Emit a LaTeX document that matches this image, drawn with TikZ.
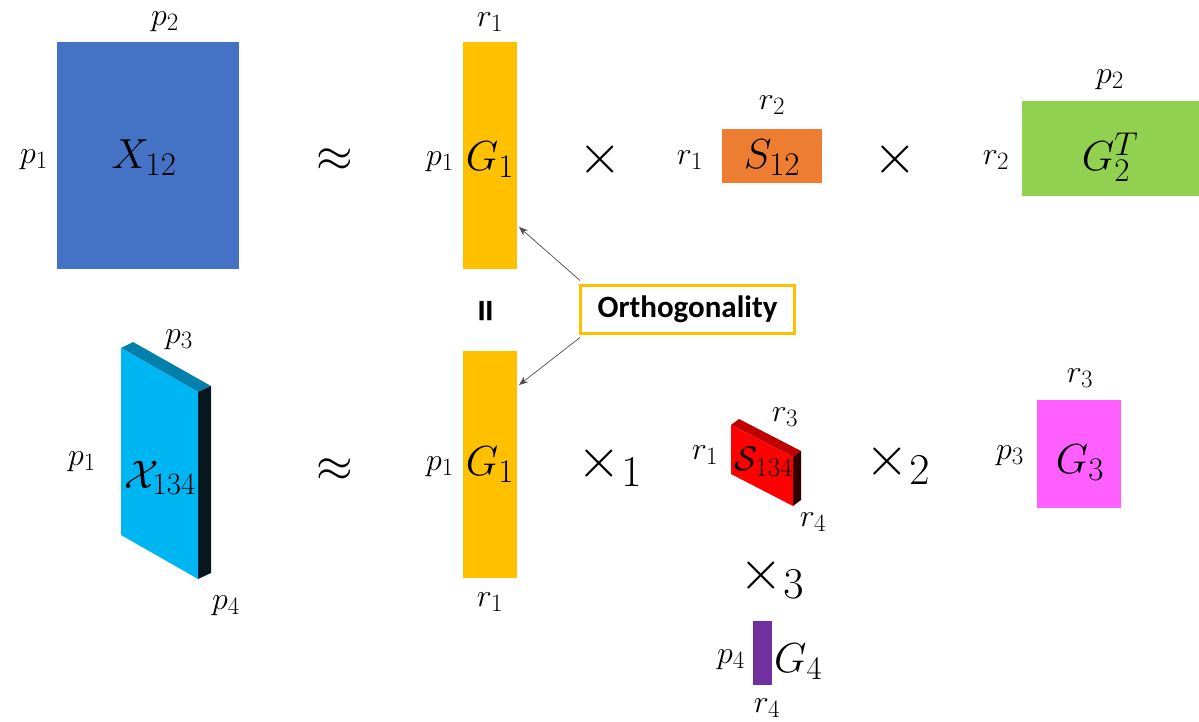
\RequirePackage{fix-cm}
\documentclass[tikz,border=0pt]{standalone}
\usepackage{fontspec}
\newfontfamily\calib{Carlito}
\usetikzlibrary{arrows.meta}
\newcommand\myssz[2]{\mbox{\fontsize{#1}{#1}\selectfont$#2$}}
\newcommand\subA[1]{\myssz{25}{#1}}% subscript of small labels
\newcommand\subB[1]{\myssz{33}{#1}}% subscript of big labels
\newcommand\subO[1]{\myssz{44}{#1}}% subscript of operators
\definecolor{cblue}{HTML}{4472C4}
\definecolor{cyel}{HTML}{FFC000}
\definecolor{corange}{HTML}{ED7D31}
\definecolor{cgreen}{HTML}{92D050}
\definecolor{cmag}{HTML}{FF5FFF}
\definecolor{cpurple}{HTML}{7030A0}
\definecolor{ccyan}{HTML}{00B6F2}
\definecolor{ccyantop}{HTML}{0080AA}
\definecolor{ccyanside}{HTML}{06181E}
\definecolor{cred}{HTML}{FF0000}
\definecolor{credtop}{HTML}{C00000}
\definecolor{credside}{HTML}{300000}
\begin{document}
\begin{tikzpicture}[x=1pt,y=-1pt,
  lbl/.style={font=\fontsize{32}{36}\selectfont, inner sep=0},
  big/.style={font=\fontsize{42}{48}\selectfont, inner sep=0},
  opr/.style={font=\fontsize{56}{62}\selectfont, inner sep=0},
  apx/.style={font=\fontsize{47}{52}\selectfont, inner sep=0},
  mat/.style={draw=none, inner sep=0, outer sep=0},
  arr/.style={draw=black!70, line width=0.7pt, -{Stealth[length=9pt,width=7pt]}}]
\useasboundingbox (0,0) rectangle (1199,722);

% ---------- top row ----------
\node[mat, fill=cblue, minimum width=182pt, minimum height=227pt] (X12) at (148,155.5) {};
\node[big] at (144,158) {$X_{\subB{12}}$};
\node[lbl] at (165,22) {$p_{\subA{2}}$};
\node[lbl] at (34,160) {$p_{\subA{1}}$};

\node[apx] (ap1) at (335,160) {$\approx$};

\node[mat, fill=cyel, minimum width=54pt, minimum height=227pt] (G1a) at (490,155.5) {};
\node[big] at (490,160) {$G_{\subB{1}}$};
\node[lbl] at (490,22) {$r_{\subA{1}}$};
\node[lbl] at (440,162) {$p_{\subA{1}}$};

\node[opr] (t1) at (600,160) {$\times$};

\node[mat, fill=corange, minimum width=100pt, minimum height=54pt] (S12) at (772,156) {};
\node[big] at (772,158) {$S_{\subB{12}}$};
\node[lbl] at (772,105) {$r_{\subA{2}}$};
\node[lbl] at (690,160) {$r_{\subA{1}}$};

\node[opr] (t2) at (895,160) {$\times$};

\node[mat, fill=cgreen, minimum width=177pt, minimum height=95pt] (G2) at (1110.5,148.5) {};
\node[big] at (1110,157) {$G_{\subB{2}}^{\subB{T}}$};
\node[lbl] at (1110,80) {$p_{\subA{2}}$};
\node[lbl] at (996,160) {$r_{\subA{2}}$};

% ---------- middle ----------
\node[rotate=90, font=\calib\bfseries\fontsize{46}{50}\selectfont, inner sep=0] (eq) at (490,311) {=};
\node[draw=cyel, line width=3pt, minimum width=214pt, minimum height=48pt, inner sep=0,
      font=\calib\bfseries\fontsize{31}{36}\selectfont] (orth) at (687.5,309) {Orthogonality};

% ---------- bottom row ----------
\fill[ccyantop] (121,348) -- (133,342) -- (211,386) -- (198,392) -- cycle;
\fill[ccyanside] (198,392) -- (211,386) -- (211,573) -- (198,579) -- cycle;
\fill[ccyan] (121,348) -- (198,392) -- (198,579) -- (121,535) -- cycle;
\coordinate (X134) at (160,478);
\node[big, font=\fontsize{40}{46}\selectfont] at (X134) {$\mathcal{X}_{\myssz{31}{134}}$};
\node[lbl] at (179,340) {$p_{\subA{3}}$};
\node[lbl] at (82,462) {$p_{\subA{1}}$};
\node[lbl] at (226,606) {$p_{\subA{4}}$};

\node[apx] (ap2) at (335,470) {$\approx$};

\node[mat, fill=cyel, minimum width=54pt, minimum height=227pt] (G1b) at (490,464.5) {};
\node[big] at (490,465) {$G_{\subB{1}}$};
\node[lbl] at (440,467) {$p_{\subA{1}}$};
\node[lbl] at (490,602) {$r_{\subA{1}}$};

\node[opr] (t3) at (610,466) {$\times_{\subO{1}}$};

\fill[credtop] (731,425) -- (739,419) -- (801,451) -- (793,457) -- cycle;
\fill[credside] (793,457) -- (801,451) -- (801,500) -- (793,506) -- cycle;
\fill[cred] (731,425) -- (793,457) -- (793,506) -- (731,474) -- cycle;
\coordinate (S134) at (764,462);
\node[lbl, font=\fontsize{34}{40}\selectfont] at (S134) {$\mathcal{S}_{\myssz{27}{134}}$};
\node[lbl] at (785,417) {$r_{\subA{3}}$};
\node[lbl] at (705,455) {$r_{\subA{1}}$};
\node[lbl] at (813,522) {$r_{\subA{4}}$};

\node[opr] (t4) at (898,464) {$\times_{\subO{2}}$};

\node[mat, fill=cmag, minimum width=84pt, minimum height=108pt] (G3) at (1079,454) {};
\node[big] at (1080,463) {$G_{\subB{3}}$};
\node[lbl] at (1080,378) {$r_{\subA{3}}$};
\node[lbl] at (1010,456) {$p_{\subA{3}}$};

\node[opr] (t5) at (772,578) {$\times_{\subO{3}}$};

\node[mat, fill=cpurple, minimum width=19pt, minimum height=64pt] (G4) at (762.5,653) {};
\node[big, anchor=west] at (774,662) {$G_{\subB{4}}$};
\node[lbl] at (731,660) {$p_{\subA{4}}$};
\node[lbl] at (767,708) {$r_{\subA{4}}$};

% ---------- arrows ----------
\coordinate (a1) at (519,227);
\coordinate (a2) at (519,385);
\draw[arr] (orth.north west) ++(1,-3) -- (a1);
\draw[arr] (orth.south west) ++(1,3) -- (a2);
\end{tikzpicture}
\end{document}
